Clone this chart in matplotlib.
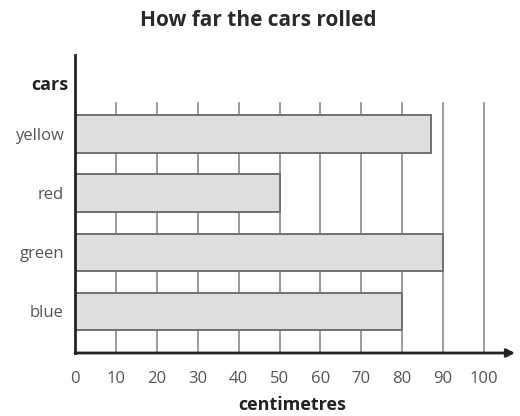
import matplotlib
matplotlib.use("Agg")
import matplotlib.pyplot as plt

cars = ["blue", "green", "red", "yellow"]
distances = [80, 90, 50, 87]
xticks = [0, 10, 20, 30, 40, 50, 60, 70, 80, 90, 100]
title = "How far the cars rolled"
xlabel = "centimetres"
ylabel = "cars"

plt.rcParams['font.family'] = ['Open Sans', 'DejaVu Sans']

W, H = 520, 416
fig = plt.figure(figsize=(W / 100, H / 100), dpi=100)
ax = fig.add_axes([75 / W, (H - 353) / H, 440 / W, 298 / H])

xmax = 440 / 4.09
ax.set_xlim(0, xmax)
ax.set_ylim(-0.71, 4.34)

ypos = list(range(len(cars)))
grid_top = 3.53
for t in xticks[1:]:
    ax.plot([t, t], [-0.71, grid_top], color="#8a8a8a", lw=1.2, zorder=1)

ax.barh(ypos, distances, height=0.63, color="#dedede", edgecolor="#707070",
        linewidth=1.4, zorder=2)

for s in ["top", "right", "bottom"]:
    ax.spines[s].set_visible(False)
ax.spines["left"].set_linewidth(2)
ax.spines["left"].set_color("#222222")

ax.annotate("", xy=(xmax, -0.71), xytext=(0, -0.71),
            arrowprops=dict(arrowstyle="-|>", color="#222222", lw=2,
                            mutation_scale=12, shrinkA=0, shrinkB=0),
            annotation_clip=False, zorder=5)

ax.set_xticks(xticks)
ax.set_xticklabels([str(t) for t in xticks], color="#555555", fontsize=12)
ax.set_yticks(ypos)
ax.set_yticklabels(cars, color="#555555", fontsize=12)
ax.tick_params(axis="x", length=0, pad=13)
ax.tick_params(axis="y", length=0, pad=8)

fig.text(258 / W, 1 - 21 / H, title, ha="center", va="center",
         fontsize=15, fontweight="bold", color="#2a2a2a")
fig.text(68 / W, 1 - 85 / H, ylabel, ha="right", va="center",
         fontsize=13, fontweight="bold", color="#222222")
fig.text(292 / W, 1 - 405 / H, xlabel, ha="center", va="center",
         fontsize=13, fontweight="bold", color="#222222")

fig.savefig("out.png", dpi=100)
